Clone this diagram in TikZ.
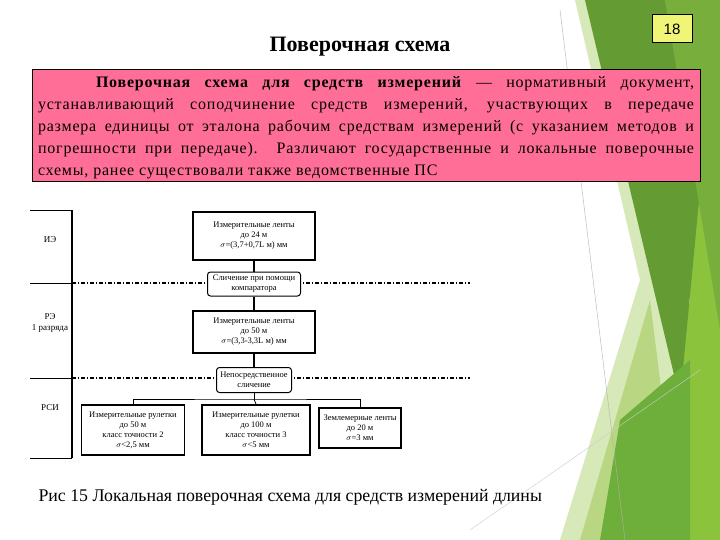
\documentclass[tikz,border=0pt]{standalone}
\usepackage{fontspec}
\setmainfont{Liberation Serif}
\setsansfont{Liberation Sans}
\newfontfamily\widefont[LetterSpace=5]{Liberation Serif}
\begin{document}
\begin{tikzpicture}[x=1pt,y=-1pt,
  sbox/.style={draw,line width=1.6pt,fill=white,align=center,font=\fontsize{8.5}{10}\selectfont,inner sep=1pt},
  rbox/.style={draw,line width=1pt,rounded corners=3pt,fill=white,align=center,font=\fontsize{8.5}{10}\selectfont,inner sep=1pt},
  conn/.style={line width=1.6pt},
  dline/.style={line width=1.4pt,dash pattern=on 4pt off 2pt on 1pt off 2pt},
  lbl/.style={font=\fontsize{9}{11}\selectfont,align=center}]
\useasboundingbox (0,0) rectangle (720,540);
\fill[white] (0,0) rectangle (720,540);
% green background
\fill[color={rgb,255:red,215;green,232;blue,185}] (575,0) -- (720,0) -- (720,540) -- (560,540) -- (640,280) -- cycle;
\fill[color={rgb,255:red,140;green,195;blue,60}] (640,0) -- (720,0) -- (720,540) -- (640,540) -- (690,300) -- cycle;
\fill[color={rgb,255:red,100;green,155;blue,50}] (585,0) -- (665,0) -- (700,190) -- (680,400) -- cycle;
\fill[color={rgb,255:red,120;green,175;blue,60}] (665,0) -- (720,0) -- (720,330) -- cycle;
\fill[color={rgb,255:red,185;green,215;blue,130}] (580,540) -- (650,300) -- (680,540) -- cycle;
\fill[color={rgb,255:red,110;green,175;blue,60}] (620,420) -- (690,360) -- (690,540) -- (600,540) -- cycle;
\draw[gray!60, line width=0.4pt] (560,10) -- (625,540);
\draw[gray!40, line width=0.4pt] (470,530) -- (700,370);
% number box
\node[draw,line width=1pt,fill={rgb,255:red,240;green,245;blue,120},minimum width=40,minimum height=28,font=\sffamily\fontsize{15}{15}\selectfont] (num) at (672,29) {18};
% title
\node[font=\bfseries\fontsize{22}{24}\selectfont] (title) at (360,47) {Поверочная схема};
% pink box
\node[draw,line width=1pt,fill={rgb,255:red,255;green,110;blue,150},minimum width=668,minimum height=112,inner sep=0pt] (pink) at (366,126) {};
\node[text width=656,align=justify,font=\widefont\fontsize{16}{22}\selectfont,inner sep=0pt,anchor=north] (ptext) at (366,76) {\hspace*{58pt}\textbf{Поверочная схема для средств измерений} — нормативный документ,\linebreak
устанавливающий соподчинение средств измерений, участвующих в передаче\linebreak
размера единицы от эталона рабочим средствам измерений (с указанием методов и\linebreak
погрешности при передаче). Различают государственные и локальные поверочные\linebreak
схемы, ранее существовали также ведомственные ПС\par};
% left column
\draw[line width=1.2pt] (72,210) -- (72,458);
\draw[line width=0.8pt] (30,210) -- (72,210);
\draw[line width=0.8pt] (30,283) -- (72,283);
\draw[line width=0.8pt] (30,378) -- (72,378);
\draw[line width=0.8pt] (30,458) -- (72,458);
\node[lbl] (l1) at (50,240) {ИЭ};
\node[lbl] (l2) at (50,323) {РЭ\\1 разряда};
\node[lbl] (l3) at (50,408) {РСИ};
% dashed lines
\coordinate (d1a) at (72,283); \coordinate (d1b) at (470,283);
\coordinate (d2a) at (72,378); \coordinate (d2b) at (470,378);
\draw[dline] (d1a) -- (d1b);
\draw[dline] (d2a) -- (d2b);
% nodes
\node[sbox,minimum width=122,minimum height=48] (b1) at (254,236) {Измерительные ленты\\до 24 м\\$\sigma$=(3,7+0,7L м) мм};
\node[rbox,minimum width=93,minimum height=24] (c1) at (254,284) {Сличение при помощи\\компаратора};
\node[sbox,minimum width=122,minimum height=42] (b2) at (254,332) {Измерительные ленты\\до 50 м\\$\sigma$=(3,3-3,3L м) мм};
\node[rbox,minimum width=75,minimum height=25] (c2) at (254,380) {Непосредственное\\сличение};
\node[sbox,minimum width=103,minimum height=50] (ba) at (133,430) {Измерительные рулетки\\до 50 м\\класс точности 2\\$\sigma$<2,5 мм};
\node[sbox,minimum width=108,minimum height=50] (bb) at (256,430) {Измерительные рулетки\\до 100 м\\класс точности 3\\$\sigma$<5 мм};
\node[sbox,minimum width=82,minimum height=40] (bc) at (360,428) {Землемерные ленты\\до 20 м\\$\sigma$=3 мм};
\draw[conn] (b1) -- (c1);
\draw[conn] (c1) -- (b2);
\draw[conn] (b2) -- (c2);
\draw[line width=0.8pt] (c2.south) -- ++(0,6) coordinate (j);
\draw[line width=0.8pt] (ba.north) |- (j) -| (bc.north);
\draw[line width=0.8pt] (j) -- (bb.north);
% caption
\node[anchor=west,font=\fontsize{17.8}{20}\selectfont] (cap) at (35,497) {Рис 15 Локальная поверочная схема для средств измерений длины};
\end{tikzpicture}
\end{document}
